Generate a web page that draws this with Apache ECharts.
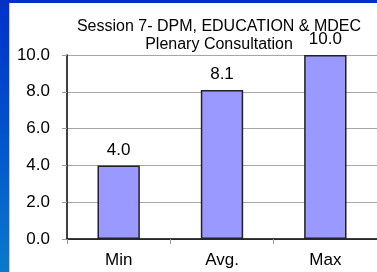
<!DOCTYPE html>
<html>
<head>
<meta charset="utf-8">
<script src="https://cdn.jsdelivr.net/npm/echarts@6/dist/echarts.min.js"></script>
<style>
	html, body { margin: 0; padding: 0; }
	body {
		width: 377px;
		height: 272px;
		overflow: hidden;
		position: relative;
		/* 蓝色边框 */
		background: linear-gradient(to bottom, #0030cc 0%, #0050cc 45%, #0a7acc 100%);
	}
	#main {
		position: absolute;
		left: 9px;
		top: 3px;
		width: 368px;
		height: 269px;
		background: #ffffff;
		border-left: 1px solid #c8c8c8;
		box-sizing: border-box;
	}
</style>
</head>
<body>
<div id="main"></div>
<script>
// 数据
var categories = ['Min', 'Avg.', 'Max'];
var scores = [4.0, 8.1, 10.0];
var yTicks = [0, 2, 4, 6, 8, 10];

var myChart = echarts.init(document.getElementById('main'));

var option = {
	backgroundColor: '#ffffff',
	animation: false,
	title: {
		text: 'Session 7- DPM, EDUCATION & MDEC\nPlenary Consultation',
		left: 204,
		top: 10,
		textAlign: 'center',
		textStyle: {
			fontFamily: 'Liberation Sans',
			fontSize: 16,
			fontWeight: 'normal',
			color: '#000',
			lineHeight: 18
		}
	},
	grid: {
		left: 57,
		right: -13,
		top: 52,
		bottom: 33
	},
	xAxis: {
		type: 'category',
		data: categories,
		axisLine: { lineStyle: { color: '#000', width: 1.5 } },
		axisTick: { show: true, length: 5, lineStyle: { color: '#999' } },
		axisLabel: {
			fontFamily: 'Liberation Sans',
			fontSize: 17,
			color: '#000',
			margin: 13
		}
	},
	yAxis: {
		type: 'value',
		min: yTicks[0],
		max: yTicks[yTicks.length - 1],
		interval: 2,
		axisLine: { show: true, lineStyle: { color: '#000', width: 1.5 } },
		axisTick: { show: true, length: 5, lineStyle: { color: '#999' } },
		splitLine: { show: true, lineStyle: { color: '#a6a6a6', width: 1 } },
		axisLabel: {
			fontFamily: 'Liberation Sans',
			fontSize: 17,
			color: '#000',
			margin: 17,
			formatter: function(value) {
				return value.toFixed(1);
			}
		}
	},
	series: [{
		type: 'bar',
		data: scores,
		barWidth: '41%',
		itemStyle: {
			color: '#9999ff',
			borderColor: '#222',
			borderWidth: 1.5
		},
		label: {
			show: true,
			position: 'top',
			distance: 7,
			fontFamily: 'Liberation Sans',
			fontSize: 17,
			color: '#000',
			formatter: function(p) {
				return p.value.toFixed(1);
			}
		}
	}]
};

myChart.setOption(option);
</script>
</body>
</html>
